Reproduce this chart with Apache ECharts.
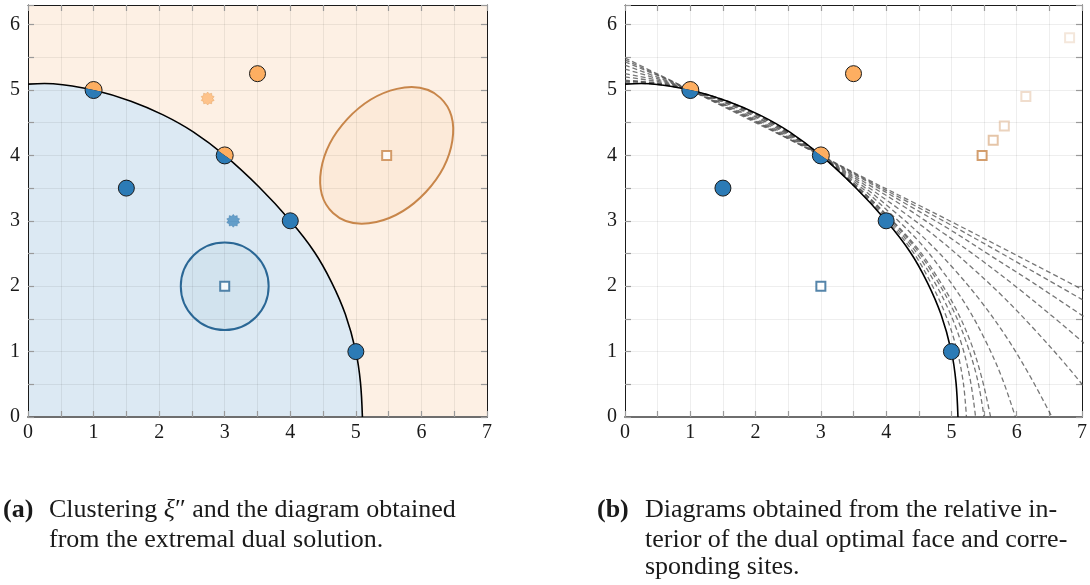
<!DOCTYPE html>
<html>
<head>
<meta charset="utf-8">
<script src="https://cdn.jsdelivr.net/npm/echarts@6/dist/echarts.min.js"></script>
<style>
  html, body { margin: 0; padding: 0; background: #ffffff; }
  #chart { width: 1090px; height: 585px; }
</style>
</head>
<body>
<div id="chart"></div>
<script>
// ---------- data ----------
// sites of the two clusters
const SITES_BLUE = [[1.5, 3.5], [4, 3], [5, 1]];
const SITES_ORANGE = [[3.5, 5.25]];
const SITES_SHARED = [[1, 5], [3, 4]];

// cluster sites (squares) and cluster means (stars)
const CENTER_BLUE = [[3, 2]];
const CENTER_ORANGE = [[5.47, 4.0]];
const MEAN_BLUE = [[3.13, 3.0]];
const MEAN_ORANGE = [[2.74, 4.87]];

// unit balls of the two norms: [cx, cy, rx, ry, rotation in degrees]
const BALL_BLUE = [[3, 2, 0.67, 0.67, 0]];
const BALL_ORANGE = [[5.47, 4.0, 1.2, 0.82, 47]];

// diagram boundary obtained from the extremal dual solution
const BOUNDARY = [
  [0, 5.09], [0.25, 5.10], [0.53, 5.08], [1, 5], [1.57, 4.83], [2.06, 4.62],
  [2.52, 4.36], [3, 4], [3.52, 3.52], [4, 3], [4.37, 2.52], [4.63, 2.06],
  [4.84, 1.57], [5, 1], [5.07, 0.53], [5.10, 0]
];

// orange site for points of the relative interior of the dual optimal face
const ORANGE_SITE_TRACK = [[5.47, 4.0], [5.64, 4.23], [5.81, 4.45], [6.14, 4.9], [6.81, 5.8]];

// diagram boundaries for points of the relative interior of the face
const FACE_BOUNDARIES = [
  [[0,5.11],[0.53,5.08],[1,5],[1.57,4.83],[2.05,4.61],[2.51,4.35],[3,4],[3.52,3.52],[4.01,3.02],[4.40,2.54],[4.67,2.08],[4.90,1.59],[5.07,1.08],[5.18,0.54],[5.23,0]],
  [[0,5.13],[0.54,5.09],[1,5],[1.57,4.82],[2.05,4.61],[2.51,4.35],[3,4],[3.53,3.53],[4.03,3.03],[4.43,2.56],[4.72,2.10],[4.97,1.61],[5.16,1.10],[5.29,0.56],[5.37,0]],
  [[0,5.14],[0.54,5.10],[1,5],[1.57,4.82],[2.05,4.60],[2.51,4.34],[3,4],[3.54,3.54],[4.04,3.05],[4.46,2.57],[4.76,2.12],[5.03,1.63],[5.24,1.11],[5.40,0.57],[5.50,0]],
  [[0,5.15],[0.54,5.10],[1,5],[1.56,4.81],[2.05,4.60],[2.51,4.34],[3,4],[3.54,3.54],[4.05,3.05],[4.48,2.58],[4.79,2.13],[5.07,1.65],[5.30,1.13],[5.47,0.58],[5.60,0]],
  [[0,5.20],[0.54,5.12],[1,5],[1.56,4.80],[2.04,4.58],[2.50,4.33],[3,4],[3.56,3.56],[4.09,3.09],[4.55,2.63],[4.90,2.18],[5.23,1.70],[5.52,1.17],[5.77,0.61],[5.98,0]],
  [[0,5.25],[0.54,5.14],[1,5],[1.56,4.79],[2.03,4.57],[2.49,4.32],[3,4],[3.58,3.58],[4.15,3.12],[4.64,2.68],[5.05,2.25],[5.45,1.77],[5.83,1.24],[6.19,0.65],[6.54,0]],
  [[0,5.32],[0.54,5.16],[1,5],[1.55,4.77],[2.02,4.55],[2.49,4.30],[3,4],[3.60,3.60],[4.21,3.17],[4.77,2.75],[5.25,2.34],[5.76,1.87],[6.28,1.33],[6.82,0.72],[7.40,0]],
  [[0,5.38],[0.54,5.18],[1,5],[1.55,4.76],[2.02,4.53],[2.48,4.29],[3,4],[3.62,3.62],[4.27,3.22],[4.88,2.81],[5.43,2.42],[6.03,1.96],[6.69,1.42],[7.44,0.78]],
  [[0,5.43],[0.55,5.20],[1,5],[1.54,4.75],[2.01,4.52],[2.47,4.28],[3,4],[3.64,3.64],[4.32,3.25],[4.97,2.87],[5.58,2.48],[6.27,2.04],[7.08,1.50]],
  [[0,5.46],[0.55,5.21],[1,5],[1.54,4.74],[2.01,4.51],[2.47,4.27],[3,4],[3.65,3.65],[4.35,3.28],[5.04,2.91],[5.70,2.54],[6.47,2.10],[7.40,1.57]],
  [[0,5.49],[0.55,5.22],[1,5],[1.54,4.73],[2.00,4.50],[2.47,4.27],[3,4],[3.66,3.66],[4.38,3.30],[5.09,2.94],[5.79,2.58],[6.62,2.15],[7.64,1.62]]
];

// axis ranges and tick step
const X_RANGE = [0, 7];
const Y_RANGE = [0, 6.3];
const TICK_STEP = 0.5;

// captions
const CAPTION_A = ['(a)', 'Clustering ', 'ξ', '″ and the diagram obtained', 'from the extremal dual solution.'];
const CAPTION_B = ['(b)', 'Diagrams obtained from the relative in-', 'terior of the dual optimal face and corre-', 'sponding sites.'];

// ---------- styles ----------
const BLUE = '#2c7bb6';
const ORANGE = '#fdae61';
const BLUE_DARK = '#2a6795';
const ORANGE_DARK = '#c8864a';
const INK = '#1a1a1a';
const SERIF = '"Liberation Serif", "DejaVu Serif", serif';
const CAPTION_SIZE = 26;
const SHARED_SPLIT_TILT = [12, 35];          // degrees, along the boundary
const TRACK_ALPHA = [1, 0.6, 0.45, 0.35, 0.25];
const STAR = 'path://M10 0L12.32 2.87L15.88 1.91L16.07 5.59L19.51 6.91L17.5 10L19.51 13.09L16.07 14.41L15.88 18.09L12.32 17.13L10 20L7.68 17.13L4.12 18.09L3.93 14.41L0.49 13.09L2.5 10L0.49 6.91L3.93 5.59L4.12 1.91L7.68 2.87Z';

const isWhole = v => Math.abs(v - Math.round(v)) < 1e-6;

function axesFor(g) {
  const common = {
    type: 'value', gridIndex: g, interval: TICK_STEP, z: 3, silent: true,
    axisTick: { show: true, inside: true, length: 6, lineStyle: { color: '#9a9a9a', width: 1.2 } }
  };
  const xb = Object.assign({}, common, {
    position: 'bottom', min: X_RANGE[0], max: X_RANGE[1],
    axisLine: { show: true, onZero: false, lineStyle: { color: '#6e6e6e', width: 2 } },
    axisLabel: { show: true, margin: 6, fontFamily: SERIF, fontSize: 20, color: INK,
                 formatter: v => isWhole(v) ? String(Math.round(v)) : '' },
    splitLine: { show: true, lineStyle: { color: 'rgba(0,0,0,0.065)', width: 1 } }
  });
  const xt = Object.assign({}, common, {
    position: 'top', min: X_RANGE[0], max: X_RANGE[1],
    axisLine: { show: true, onZero: false, lineStyle: { color: INK, width: 1 } },
    axisLabel: { show: false }, splitLine: { show: false }
  });
  const yl = Object.assign({}, common, {
    position: 'left', min: Y_RANGE[0], max: Y_RANGE[1],
    axisLine: { show: true, onZero: false, lineStyle: { color: INK, width: 1 } },
    axisLabel: { show: true, margin: 8, fontFamily: SERIF, fontSize: 20, color: INK,
                 formatter: v => isWhole(v) ? String(Math.round(v)) : '' },
    splitLine: { show: true, lineStyle: { color: 'rgba(0,0,0,0.065)', width: 1 } }
  });
  const yr = Object.assign({}, common, {
    position: 'right', min: Y_RANGE[0], max: Y_RANGE[1],
    axisLine: { show: true, onZero: false, lineStyle: { color: INK, width: 1 } },
    axisLabel: { show: false }, splitLine: { show: false }
  });
  return { x: [xb, xt], y: [yl, yr] };
}

const A0 = axesFor(0), A1 = axesFor(1);

function ballSeries(axis, data, fill, stroke) {
  return {
    type: 'custom', xAxisIndex: axis, yAxisIndex: axis, data: data, z: 4, silent: true,
    encode: { x: 0, y: 1 },
    renderItem: function (params, api) {
      const c = api.coord([api.value(0), api.value(1)]);
      const s = api.size([api.value(2), api.value(3)]);
      return {
        type: 'ellipse', x: c[0], y: c[1], rotation: api.value(4) * Math.PI / 180,
        shape: { cx: 0, cy: 0, rx: s[0], ry: s[1] },
        style: { fill: fill, stroke: stroke, lineWidth: 2 }
      };
    }
  };
}

function siteSeries(axis, data, color) {
  return {
    type: 'scatter', xAxisIndex: axis, yAxisIndex: axis, data: data, z: 8, silent: true,
    symbol: 'circle', symbolSize: 16,
    itemStyle: { color: color, borderColor: INK, borderWidth: 1, opacity: 1 }
  };
}

function sharedSiteSeries(axis) {
  return {
    type: 'custom', xAxisIndex: axis, yAxisIndex: axis, data: SITES_SHARED, z: 8, silent: true,
    encode: { x: 0, y: 1 },
    renderItem: function (params, api) {
      const c = api.coord([api.value(0), api.value(1)]);
      const r = 8.5;
      const a = SHARED_SPLIT_TILT[params.dataIndex] * Math.PI / 180;
      return {
        type: 'group', children: [
          { type: 'sector', shape: { cx: c[0], cy: c[1], r0: 0, r: r, startAngle: Math.PI + a, endAngle: 2 * Math.PI + a, clockwise: true }, style: { fill: ORANGE } },
          { type: 'sector', shape: { cx: c[0], cy: c[1], r0: 0, r: r, startAngle: a, endAngle: Math.PI + a, clockwise: true }, style: { fill: BLUE } },
          { type: 'circle', shape: { cx: c[0], cy: c[1], r: r }, style: { fill: 'none', stroke: INK, lineWidth: 1 } }
        ]
      };
    }
  };
}

function squareSeries(axis, data, stroke) {
  return {
    type: 'scatter', xAxisIndex: axis, yAxisIndex: axis, data: data, z: 7, silent: true,
    symbol: 'rect', symbolSize: 9,
    itemStyle: { color: '#ffffff', borderColor: stroke, borderWidth: 2 }
  };
}

function starSeries(axis, data, fill, stroke) {
  return {
    type: 'scatter', xAxisIndex: axis, yAxisIndex: axis, data: data, z: 7, silent: true,
    symbol: STAR, symbolSize: 13,
    itemStyle: { color: fill, borderColor: stroke, borderWidth: 0.6 }
  };
}

function boundarySeries(axis) {
  return {
    type: 'line', xAxisIndex: axis, yAxisIndex: axis, data: BOUNDARY, z: 6, silent: true,
    smooth: 0.35, showSymbol: false, symbol: 'none',
    lineStyle: { color: '#000000', width: 1.6 }
  };
}

const series = [];

// left panel
series.push({
  type: 'line', xAxisIndex: 0, yAxisIndex: 0, data: BOUNDARY, z: 1, silent: true,
  smooth: 0.35, showSymbol: false, symbol: 'none',
  lineStyle: { opacity: 0, width: 0 },
  areaStyle: { color: '#dce9f3', opacity: 1 }
});
series.push(ballSeries(0, BALL_BLUE, 'rgba(44,110,165,0.05)', BLUE_DARK));
series.push(ballSeries(0, BALL_ORANGE, 'rgba(245,160,90,0.08)', ORANGE_DARK));
series.push(boundarySeries(0));
series.push(starSeries(0, MEAN_ORANGE, 'rgba(253,174,97,0.85)', 'rgba(215,140,70,0.7)'));
series.push(starSeries(0, MEAN_BLUE, 'rgba(44,123,182,0.85)', 'rgba(40,100,150,0.6)'));
series.push(squareSeries(0, CENTER_BLUE, BLUE_DARK));
series.push(squareSeries(0, CENTER_ORANGE, ORANGE_DARK));
series.push(siteSeries(0, SITES_BLUE, BLUE));
series.push(siteSeries(0, SITES_ORANGE, ORANGE));
series.push(sharedSiteSeries(0));

// right panel
FACE_BOUNDARIES.forEach(function (curve) {
  series.push({
    type: 'line', xAxisIndex: 2, yAxisIndex: 2, data: curve, z: 5, silent: true,
    smooth: 0.35, showSymbol: false, symbol: 'none', clip: true,
    lineStyle: { color: 'rgba(85,85,85,0.8)', width: 1.3, type: [5, 3] }
  });
});
series.push(boundarySeries(2));
series.push(squareSeries(2, CENTER_BLUE, BLUE_DARK));
series.push({
  type: 'scatter', xAxisIndex: 2, yAxisIndex: 2, z: 7, silent: true,
  symbol: 'rect', symbolSize: 9,
  data: ORANGE_SITE_TRACK.map(function (p, i) {
    return { value: p, itemStyle: { color: '#ffffff', borderColor: 'rgba(200,134,74,' + TRACK_ALPHA[i] + ')', borderWidth: 2 } };
  })
});
series.push(siteSeries(2, SITES_BLUE, BLUE));
series.push(siteSeries(2, SITES_ORANGE, ORANGE));
series.push(sharedSiteSeries(2));

function captionText(x, y, text, bold, rich) {
  const style = {
    text: text, fill: INK, fontFamily: SERIF, fontSize: CAPTION_SIZE,
    fontWeight: bold ? 'bold' : 'normal', verticalAlign: 'middle', align: 'left'
  };
  if (rich) style.rich = rich;
  return { type: 'text', x: x, y: y, silent: true, style: style };
}

const richA = {
  r: { fontFamily: SERIF, fontSize: CAPTION_SIZE, fill: INK },
  m: { fontFamily: SERIF, fontSize: CAPTION_SIZE, fontStyle: 'italic', fill: INK }
};

const option = {
  animation: false,
  backgroundColor: '#ffffff',
  grid: [
    { left: 28, top: 5, width: 459, height: 412, show: true, backgroundColor: '#fdf0e4', borderWidth: 0 },
    { left: 625, top: 5, width: 458, height: 412, show: false }
  ],
  xAxis: [A0.x[0], A0.x[1], A1.x[0], A1.x[1]],
  yAxis: [A0.y[0], A0.y[1], A1.y[0], A1.y[1]],
  series: series,
  graphic: [
    captionText(3, 510, CAPTION_A[0], true),
    captionText(49, 510, '{r|' + CAPTION_A[1] + '}{m|' + CAPTION_A[2] + '}{r|' + CAPTION_A[3] + '}', false, richA),
    captionText(49, 540, CAPTION_A[4], false),
    captionText(597, 510, CAPTION_B[0], true),
    captionText(645, 510, CAPTION_B[1], false),
    captionText(645, 540, CAPTION_B[2], false),
    captionText(645, 567, CAPTION_B[3], false)
  ]
};

const chart = echarts.init(document.getElementById('chart'), null, { renderer: 'canvas' });
chart.setOption(option);
</script>
</body>
</html>
